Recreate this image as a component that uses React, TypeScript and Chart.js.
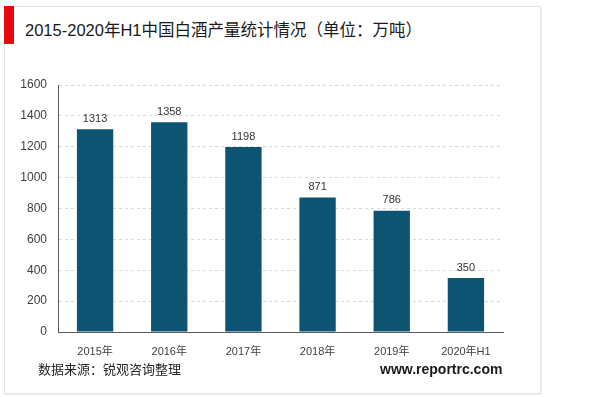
import React, { useEffect, useRef } from "react";
import { Chart, registerables } from "chart.js";

Chart.register(...registerables);

const categories = ["2015年", "2016年", "2017年", "2018年", "2019年", "2020年H1"];
const production = [1313, 1358, 1198, 871, 786, 350];
const yTicks = [0, 200, 400, 600, 800, 1000, 1200, 1400, 1600];

const BAR_COLOR = "#0d5473";

const labelPlugin = {
  id: "barLabels",
  afterDatasetsDraw(chart: any) {
    const ctx = chart.ctx;
    const meta = chart.getDatasetMeta(0);
    ctx.save();
    ctx.font = "11px 'Liberation Sans', Arial, sans-serif";
    ctx.fillStyle = "#333333";
    ctx.textAlign = "center";
    ctx.textBaseline = "bottom";
    meta.data.forEach((el: any, i: number) => {
      ctx.fillText(String(production[i]), el.x, el.y - 5);
    });
    ctx.restore();
  },
};

export default function App() {
  const ref = useRef<HTMLCanvasElement | null>(null);

  useEffect(() => {
    if (!ref.current) return;
    const chart = new Chart(ref.current, {
      type: "bar",
      data: {
        labels: categories,
        datasets: [
          {
            data: production,
            backgroundColor: BAR_COLOR,
            categoryPercentage: 1,
            barPercentage: 0.49,
          },
        ],
      },
      options: {
        animation: false,
        responsive: false,
        maintainAspectRatio: false,
        layout: { padding: { left: 0, top: 85, right: 97, bottom: 0 } },
        plugins: { legend: { display: false }, tooltip: { enabled: false } },
        scales: {
          x: {
            grid: { display: false },
            border: { display: true, color: "#595959", width: 1 },
            ticks: {
              color: "#404040",
              font: { size: 11, family: "'Liberation Sans', 'Noto Sans CJK SC', sans-serif" },
              padding: 5,
              maxRotation: 0,
            },
            afterFit(scale: any) {
              scale.height = 65;
            },
          },
          y: {
            min: 0,
            max: 1600,
            afterBuildTicks(scale: any) {
              scale.ticks = yTicks.map((v) => ({ value: v }));
            },
            grid: {
              color: "#d9d9d9",
              drawTicks: false,
            },
            border: { display: true, color: "#595959", width: 1, dash: [3, 3] },
            ticks: {
              color: "#404040",
              font: { size: 12, family: "'Liberation Sans', Arial, sans-serif" },
              padding: 11,
              callback: (v: any) => String(v),
            },
            afterFit(scale: any) {
              scale.width = 58;
            },
          },
        },
      },
      plugins: [labelPlugin],
    });
    return () => chart.destroy();
  }, []);

  return (
    <div
      style={{
        position: "absolute",
        left: 0,
        top: 0,
        width: 600,
        height: 397,
        background: "#ffffff",
        overflow: "hidden",
      }}
    >
      <div
        style={{
          position: "absolute",
          left: 4,
          top: 6,
          width: 535,
          height: 386,
          border: "1px solid #e3e3e3",
          boxShadow: "1px 1px 2px rgba(0,0,0,0.08)",
        }}
      />
      <div
        style={{
          position: "absolute",
          left: 4,
          top: 6,
          width: 10,
          height: 38,
          background: "#e8080c",
        }}
      />
      <div
        style={{
          position: "absolute",
          left: 25,
          top: 19,
          fontSize: 16.5,
          lineHeight: "22px",
          color: "#1a1a1a",
          fontFamily: "'Liberation Sans', 'Noto Sans CJK SC', sans-serif",
          whiteSpace: "nowrap",
        }}
      >
        2015-2020年H1中国白酒产量统计情况（单位：万吨）
      </div>
      <canvas
        ref={ref}
        width={600}
        height={397}
        style={{ position: "absolute", left: 0, top: 0, width: 600, height: 397 }}
      />
      <div
        style={{
          position: "absolute",
          left: 38,
          top: 360,
          fontSize: 13,
          lineHeight: "18px",
          color: "#262626",
          fontFamily: "'Noto Sans CJK SC', sans-serif",
          whiteSpace: "nowrap",
        }}
      >
        数据来源：锐观咨询整理
      </div>
      <div
        style={{
          position: "absolute",
          left: 380,
          top: 360,
          fontSize: 14,
          lineHeight: "18px",
          fontWeight: "bold",
          color: "#1a1a1a",
          fontFamily: "'Liberation Sans', Arial, sans-serif",
          whiteSpace: "nowrap",
        }}
      >
        www.reportrc.com
      </div>
    </div>
  );
}
